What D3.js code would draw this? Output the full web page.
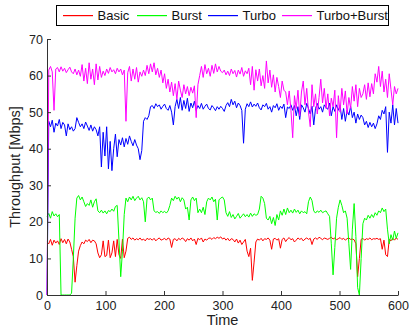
<!DOCTYPE html>
<html><head><meta charset="utf-8">
<script src="https://cdn.jsdelivr.net/npm/d3@7"></script>
<style>
html,body{margin:0;padding:0;background:#fff;}
svg{display:block;font-family:"Liberation Sans",Arial,sans-serif;}
</style></head>
<body>
<script>
// time axis: 0..600 sampled every 3 s
const time = d3.range(0, 601, 3);
const seriesNames = ["Basic", "Burst", "Turbo", "Turbo+Burst"];
const seriesColors = ["#ff0000", "#00ff00", "#0000ff", "#ff00ff"];
const xTicks = [0, 100, 200, 300, 400, 500, 600];
const yTicks = [0, 10, 20, 30, 40, 50, 60, 70];

const basic = [
14.5,14,15.2,13.6,15,14.2,14.8,13.8,15.4,14.3,15.2,14,15.3,14.5,12.5,10.5,3.5,8,12,13.5,
14.5,14,15,14.6,15.2,14.3,15,14.8,14,11.5,10.2,11,14.8,10.5,10.8,15,10.2,11.5,14.8,10.5,
15.2,11,10,15.3,10.2,12,15.5,15.8,15.2,15.6,15,15.4,15.1,15.6,15,15.3,14.8,15.5,15.2,15.4,
15,15.5,14.8,15.3,15.6,15,15.2,15.5,15,15.6,15.3,13,15.2,15.4,14.8,15.5,15.1,15.6,15.3,14.6,
15.4,15,15.6,14.8,15.3,13.8,15.5,15.1,15.6,14.5,15.3,15,15.5,15.6,15.2,15.7,15.4,15.8,15.5,15.9,
15.3,15.6,15,15.5,14.8,15.4,15.2,14.5,15.3,14.2,15,13.8,14.5,15.2,12,10.5,12.8,4,9,14.5,
15.3,15,15.5,14.8,15.4,15.2,15.6,15,12.5,15.3,15.5,15,15.4,12.8,15.2,15.6,14.6,15.3,15.7,15.1,
15.4,14.5,15,15.6,15.2,15.5,14.8,15.3,15.6,15.2,15.5,13.8,15.3,15.6,15.2,15.8,15.5,15.1,15.6,15.4,
15.2,15.5,15.8,15.3,15.6,15.1,15.4,15.7,15.2,15.5,15,15.4,15.6,15.2,15.3,15.1,14,5,10,15.2,
15.5,15,15.4,15.2,15.6,15.1,15.4,15.3,15.5,15.2,15.4,12.5,15,11,10.5,15.2,14.8,15.5,15,15.6,15.2];

const burst = [
21.5,22.3,21,22.8,21.6,22.2,21.4,22,0,0,0,0,0,0,0.5,10,21,26.5,27.2,26,
26.8,25.5,24.2,25,24.5,26,24,25.5,26.3,23,22.5,23.2,22.4,23,22.2,23.1,22.8,23.5,22.9,24.2,
24.5,15,5,12,22,26.5,25.5,26.8,26,27,25.8,26.5,27,26,26.6,25.5,20,26.3,26.8,26,
26.5,23,22.6,22.8,22.3,23,22.5,22.9,22.4,23,24.5,26.5,25.8,27,26.2,26.8,25.5,26.6,26,23.5,
24,20.5,26,26.8,25.8,26.5,22.5,23.5,22.5,24,22,25.5,26.5,26,26.8,25.5,26.2,20.5,26,26.5,
26.8,26,22.5,21.5,22.8,21.2,22,20.8,21.5,22.3,21,21.6,22.2,21.4,22,21.3,22.4,21.5,22.2,21.8,
22,23.5,27,26.5,25,21,20.5,21.5,19.5,21.2,19,22,20.5,23,21.8,23.5,22,23.8,22.5,23.2,
22.4,23.5,22.6,23.2,22.2,23,22.5,22.8,22.2,25.5,26.8,25.8,23,22.4,23,22.6,23.2,22.5,22.8,23,
22.2,21.5,14,5.5,13,21,24,26,24.5,22.5,23,21,14,7,18,25,16,2,0,10,
19.5,21,20.5,21.8,21,22,21.2,22.5,21.8,23,22.5,23.8,22.8,23.5,18,14,16.5,15,17.5,15.5,17];

const turbo = [
0,47.5,46,47.8,44.5,47,46.2,48,45.5,47.2,46.5,43.5,46.8,45.2,46,44.8,45.5,48.5,47.2,46,
46.8,45.5,47.3,46.2,45,46.5,44.8,46,45.2,43.5,46,35,44.5,38,46,34.5,42,34,40,44,
37.8,42.5,41,43,40.5,42.8,41.2,43.5,42,40.8,42.5,41,40,37,39.5,47.5,48.5,48,49,51.5,
51.8,51,52.3,51.5,52,50.8,51.6,52.2,51,50.5,51.8,50,46.5,51.5,53.5,51,54,50.5,53.2,51,
53.8,50.2,52.5,51.2,53,50.5,51.8,51,52.4,50.8,51.6,52.2,51,50.6,51.8,51.2,50.4,51.5,50.8,51.6,
51,50.2,51.8,52.6,51.5,53.5,52,53,51.2,52.5,51.8,50.5,41.5,50.8,52.3,51.5,52.8,51.4,52.2,51.6,
52.5,51.2,50.6,52,51.5,52.4,50.8,51.5,50,51.8,51.2,52.3,50.5,51.6,51,52.2,48.5,51.4,51,52,
50.5,51.8,49,51.5,48,52,51.2,50,52.4,51,49.5,51.6,46.5,51,52.4,50.8,51.5,50,52,51.2,
50.8,52.5,49,51.5,50.2,52,50.5,51.8,48,51,47.5,50.5,49.2,51.6,48.5,50,47,49.5,48,49.2,
48.5,46.5,47.5,45.8,47.2,46,47,45.5,46.8,49,48,50.5,49.5,51.5,39,50,47,52,46.5,51,47];

const turboBurst = [
0,61.5,62.5,61,50.5,61.8,62.2,61,62.4,61.2,62,60.8,61.6,62.3,61,60.5,61.8,60.2,61.5,59.8,
63,58.5,62,57.8,63.5,59,61.8,57.5,63.2,58.8,62.5,59.5,61.2,60,61.8,60.6,62.2,61,61.6,60.5,
62,61,61.8,60.2,61.5,47.5,60.8,62.5,58.5,61.8,59,62.2,58.2,61,59.8,61.5,60,62.8,60.5,63.2,
61,63.5,60.2,62,59.5,61.5,58,60.5,56.5,59,55.5,58.2,54.5,57.8,53.5,58.5,56,54,57.5,55,
57,54.5,56.8,55.2,57.2,48.5,57.5,60,62.5,59.5,63,60.5,62,59.8,62.8,60.6,63.2,61,62.5,61.2,
60.8,61.5,60.2,61.2,60,61.8,60.5,61.4,59.6,61.5,60.4,62.2,59.8,61.3,60.5,62,57.5,62.5,56,61.6,
58.5,61.8,57.2,60,56.5,64,58,61.5,56.8,60.2,55.5,59.5,57,54,58.5,56,55.5,52,55.8,50.5,
43,54.5,51,56,49,55.5,58.5,52,56.5,50,46,57.5,51.5,55,49.5,54,59,52.5,56.5,51,
55,49,53.8,51.5,56,43,54.5,50,56.5,52,55.8,49.5,54,51,57,53,57.5,51.5,56.5,54,
55,57.5,53.5,58,54.2,57.8,55,60.5,58.2,62.5,57,61.2,55.5,59,54,60.5,56.2,52,57,55,56.5];

const W = 409, H = 329;
const margin = {left: 47, right: 11, top: 39, bottom: 34};
const svg = d3.select("body").append("svg").attr("width", W).attr("height", H);

const x = d3.scaleLinear().domain([0, 600]).range([margin.left, W - margin.right]);
const y = d3.scaleLinear().domain([0, 70]).range([H - margin.bottom, margin.top]);

const data = [basic, burst, turbo, turboBurst];
const line = d3.line().x((d, i) => x(time[i])).y(d => y(d));

const plot = svg.append("g");
data.forEach((s, k) => {
  plot.append("path").datum(s)
    .attr("fill", "none")
    .attr("stroke", seriesColors[k])
    .attr("stroke-width", 1)
    .attr("d", line);
});

// axes (MATLAB style, ticks inward, box off)
const xAxis = svg.append("g").attr("transform", `translate(0,${y(0)})`)
  .call(d3.axisBottom(x).tickValues(xTicks).tickFormat(d3.format("d")).tickSizeInner(-4).tickSizeOuter(0).tickPadding(6));
const yAxis = svg.append("g").attr("transform", `translate(${x(0)},0)`)
  .call(d3.axisLeft(y).tickValues(yTicks).tickFormat(d3.format("d")).tickSizeInner(-4).tickSizeOuter(0).tickPadding(4));
[xAxis, yAxis].forEach(a => {
  a.selectAll("text").attr("font-size", 12.5).attr("fill", "#222").attr("font-family", "Liberation Sans, Arial, sans-serif");
  a.select(".domain").attr("stroke", "#333");
  a.selectAll(".tick line").attr("stroke", "#333");
});

svg.append("text").attr("x", (x(0) + x(600)) / 2).attr("y", 325)
  .attr("text-anchor", "middle").attr("font-size", 14.5).attr("fill", "#222").text("Time");
svg.append("text").attr("transform", `translate(20,${(y(0) + y(70)) / 2}) rotate(-90)`)
  .attr("text-anchor", "middle").attr("font-size", 14.5).attr("fill", "#222").text("Throughput [Mbps]");

// legend
const lg = svg.append("g");
lg.append("rect").attr("x", 56.5).attr("y", 5.5).attr("width", 332).attr("height", 20)
  .attr("fill", "#fff").attr("stroke", "#000").attr("stroke-width", 1);
const legX = [63, 137, 208, 282];
seriesNames.forEach((n, k) => {
  lg.append("rect").attr("x", legX[k]).attr("y", 15).attr("width", 30).attr("height", 1.2)
    .attr("fill", seriesColors[k]).attr("stroke", "none");
  lg.append("text").attr("x", legX[k] + 34.5).attr("y", 20).attr("font-size", 13)
    .attr("fill", "#111").text(n);
});
</script>
</body></html>
